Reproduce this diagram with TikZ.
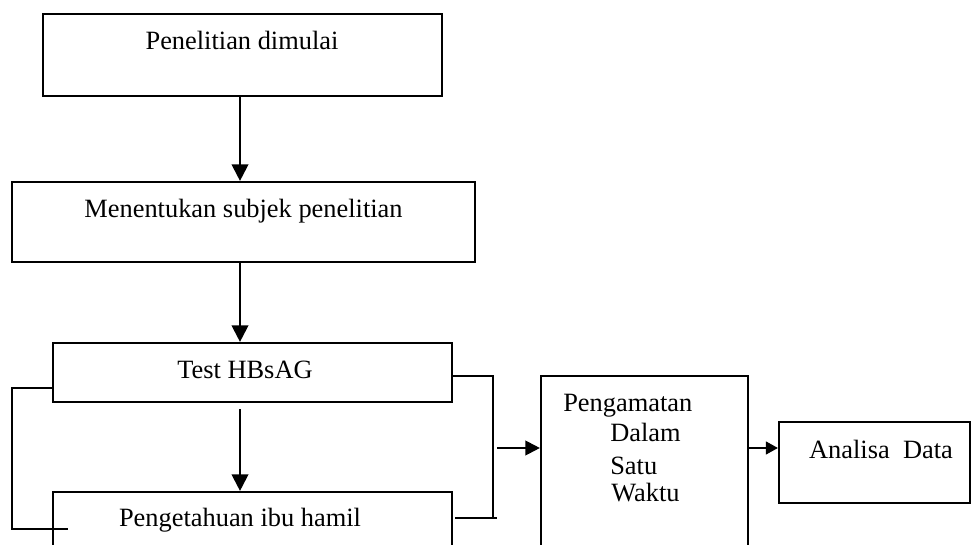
\documentclass[tikz,border=0pt]{standalone}
\usepackage{fontspec}
\setmainfont{Liberation Serif}
\usetikzlibrary{arrows.meta}
\begin{document}
\begin{tikzpicture}[x=0.75pt,y=-0.75pt,
  font=\fontsize{19.8}{24}\selectfont,
  box/.style={draw, line width=1.6pt, inner sep=0pt},
  lbl/.style={inner sep=0pt, text height=0.7em, text depth=0.2em},
  ln/.style={line width=1.6pt},
  arrv/.style={line width=1.6pt, -{Triangle[length=12.5pt,width=12.5pt]}},
  arrh/.style={line width=1.6pt, -{Triangle[length=11pt,width=11pt]}},
  arrs/.style={line width=1.6pt, -{Triangle[length=9pt,width=9.5pt]}}]
\clip (0,0) rectangle (971,545);
% boxes
\node[box, minimum width=299.25pt, minimum height=61.5pt] (b1) at (242.5,55) {};
\node[box, minimum width=347.25pt, minimum height=60pt] (b2) at (243.5,222) {};
\node[box, minimum width=299.25pt, minimum height=44.25pt] (b3) at (252.5,372.5) {};
\node[box, minimum width=299.25pt, minimum height=58.5pt] (b4) at (252.5,531) {};
\node[box, minimum width=155.25pt, minimum height=145.5pt] (b5) at (644.5,473) {};
\node[box, minimum width=143.25pt, minimum height=60.75pt] (b6) at (874.5,462.5) {};
% labels
\node[lbl] (t1) at (242,46) {Penelitian dimulai};
\node[lbl] (t2) at (243.5,214) {Menentukan subjek penelitian};
\node[lbl] (t3) at (245,375) {Test HBsAG};
\node[lbl] (t4) at (240,523) {Pengetahuan ibu hamil};
\node[lbl, anchor=west] (t5a) at (563,408) {Pengamatan};
\node[lbl, anchor=west] (t5b) at (610,438) {Dalam};
\node[lbl, anchor=west] (t5c) at (610,471) {Satu};
\node[lbl, anchor=west] (t5d) at (611,498) {Waktu};
\node[lbl] (t6) at (881,455) {Analisa~ Data};
% helper coordinates
\coordinate (ax) at (240,0);
\coordinate (L1) at (12,388);
\coordinate (L2) at (12,529);
\coordinate (L3) at (68,529);
\coordinate (R1) at (493,376);
\coordinate (R2) at (493,518);
\coordinate (R3) at (455,518);
\coordinate (R4) at (497,518);
\coordinate (M) at (497,448);
% vertical arrows
\draw[arrv] (b1.south -| ax) -- (b2.north -| ax);
\draw[arrv] (b2.south -| ax) -- (b3.north -| ax);
\draw[arrv] ([yshift=-4.5pt]b3.south -| ax) -- (b4.north -| ax);
% brackets
\draw[ln] (b3.west |- L1) -- (L1) -- (L2) -- (L3);
\draw[ln] (b3.east |- R1) -- (R1) -- (R2);
\draw[ln] (R3) -- (R4);
% horizontal arrows
\draw[arrh] (M) -- (b5.west |- M);
\draw[arrs] (b5.east |- M) -- (b6.west |- M);
\end{tikzpicture}
\end{document}
